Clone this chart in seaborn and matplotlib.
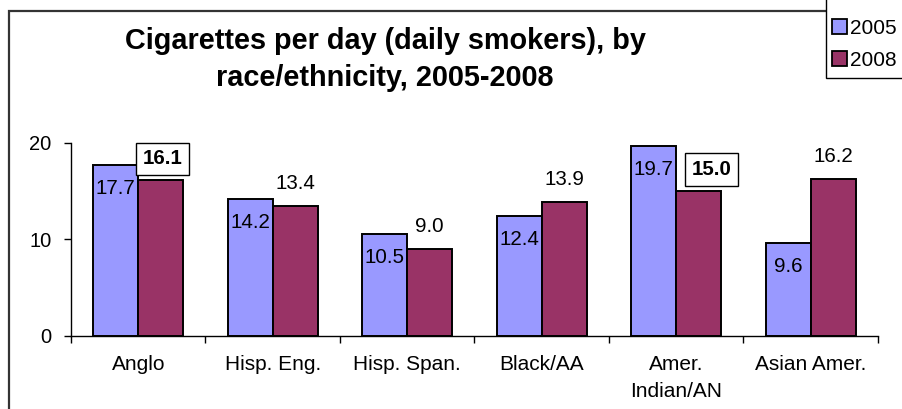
import matplotlib
matplotlib.use("Agg")
import matplotlib.pyplot as plt
import seaborn as sns
import pandas as pd
from matplotlib.patches import Rectangle, Patch

# Chart data
groups = ["Anglo", "Hisp. Eng.", "Hisp. Span.", "Black/AA", "Amer.\nIndian/AN", "Asian Amer."]
years = ["2005", "2008"]
cig_2005 = [17.7, 14.2, 10.5, 12.4, 19.7, 9.6]
cig_2008 = [16.1, 13.4, 9.0, 13.9, 15.0, 16.2]
boxed_2008 = [True, False, False, False, True, False]
y_ticks = [0, 10, 20]
title_lines = ["Cigarettes per day (daily smokers), by", "race/ethnicity, 2005-2008"]

sns.set_style("white", {"text.color": "black", "xtick.color": "black",
                        "ytick.color": "black", "axes.labelcolor": "black"})
plt.rcParams["font.family"] = ["Liberation Sans", "DejaVu Sans"]

df = pd.DataFrame({
    "group": groups * 2,
    "year": [years[0]] * len(groups) + [years[1]] * len(groups),
    "cigs": cig_2005 + cig_2008,
})

W, H = 903, 409
fig = plt.figure(figsize=(W / 100, H / 100), dpi=100)
fig.patch.set_facecolor("white")

# plot area in pixel terms
x0, x1, y_top, y_bot = 71, 878, 142.7, 335.7
ax = fig.add_axes([x0 / W, 1 - y_bot / H, (x1 - x0) / W, (y_bot - y_top) / H])

palette = {"2005": "#9999FF", "2008": "#993366"}
sns.barplot(data=df, x="group", y="cigs", hue="year", hue_order=years,
            palette=palette, saturation=1, width=0.67,
            edgecolor="black", linewidth=1.4, ax=ax, legend=False)

ax.set_xlim(-0.5, len(groups) - 0.5)
ax.set_ylim(0, 20)
ax.set_xlabel("")
ax.set_ylabel("")
sns.despine(ax=ax)
for side in ("left", "bottom"):
    ax.spines[side].set_color("black")
    ax.spines[side].set_linewidth(1.0)

ax.set_yticks(y_ticks)
ax.tick_params(axis="y", left=True, direction="out", length=5, width=1,
               pad=9, labelsize=14.5, colors="black")
ax.set_xticks(range(len(groups)))
ax.set_xticklabels(groups)
ax.set_xticks([i - 0.5 for i in range(len(groups) + 1)], minor=True)
ax.tick_params(axis="x", which="major", length=0, pad=14, labelsize=15,
               labelcolor="black")
ax.tick_params(axis="x", which="minor", bottom=True, direction="out",
               length=5, width=1, color="black")
for lbl in ax.get_xticklabels():
    lbl.set_linespacing(1.5)

# value labels
bars05, bars08 = ax.containers[0], ax.containers[1]
for bar, v in zip(bars05, cig_2005):
    cx = bar.get_x() + bar.get_width() / 2
    ax.annotate(f"{v:.1f}", (cx, v), xytext=(0, -29), textcoords="offset pixels",
                ha="center", va="baseline", fontsize=14.8, color="black")
for i, (bar, v, boxed) in enumerate(zip(bars08, cig_2008, boxed_2008)):
    cx = bar.get_x() + bar.get_width() / 2
    if boxed:
        dx = 13 if i == 4 else 2
        ax.annotate(f"{v:.1f}", (cx, v), xytext=(dx, 16), textcoords="offset pixels",
                    ha="center", va="baseline", fontsize=14.8, fontweight="bold",
                    color="black",
                    bbox=dict(boxstyle="square,pad=0.32", facecolor="white",
                              edgecolor="black", linewidth=1))
    else:
        ax.annotate(f"{v:.1f}", (cx, v), xytext=(0, 17), textcoords="offset pixels",
                    ha="center", va="baseline", fontsize=14.8, color="black")

# title
fig.text(385 / W, 1 - 49.3 / H, title_lines[0], ha="center", va="baseline",
         fontsize=20.8, fontweight="bold", color="black")
fig.text(385 / W, 1 - 86 / H, title_lines[1], ha="center", va="baseline",
         fontsize=20.8, fontweight="bold", color="black")

# outer chart frame
fig.add_artist(Rectangle((9 / W, -0.1), 1.2, 1.1 - 10.7 / H,
                         transform=fig.transFigure, fill=False,
                         edgecolor="#333333", linewidth=1.6, zorder=1))

# legend box
fig.add_artist(Rectangle((826 / W, 1 - 78 / H), 0.2, 0.3,
                         transform=fig.transFigure, facecolor="white",
                         edgecolor="black", linewidth=1, zorder=3))
handles = [Patch(facecolor=palette[y], edgecolor="black", linewidth=1.3, label=y)
           for y in years]
leg = fig.legend(handles=handles, loc="upper left",
                 bbox_to_anchor=(832 / W, 1 - 19 / H), frameon=False,
                 fontsize=15, handlelength=0.7, handleheight=0.7,
                 handletextpad=0.15, labelspacing=0.62, borderpad=0,
                 borderaxespad=0, labelcolor="black")
leg.set_zorder(4)

fig.savefig("out.png", dpi=100)
